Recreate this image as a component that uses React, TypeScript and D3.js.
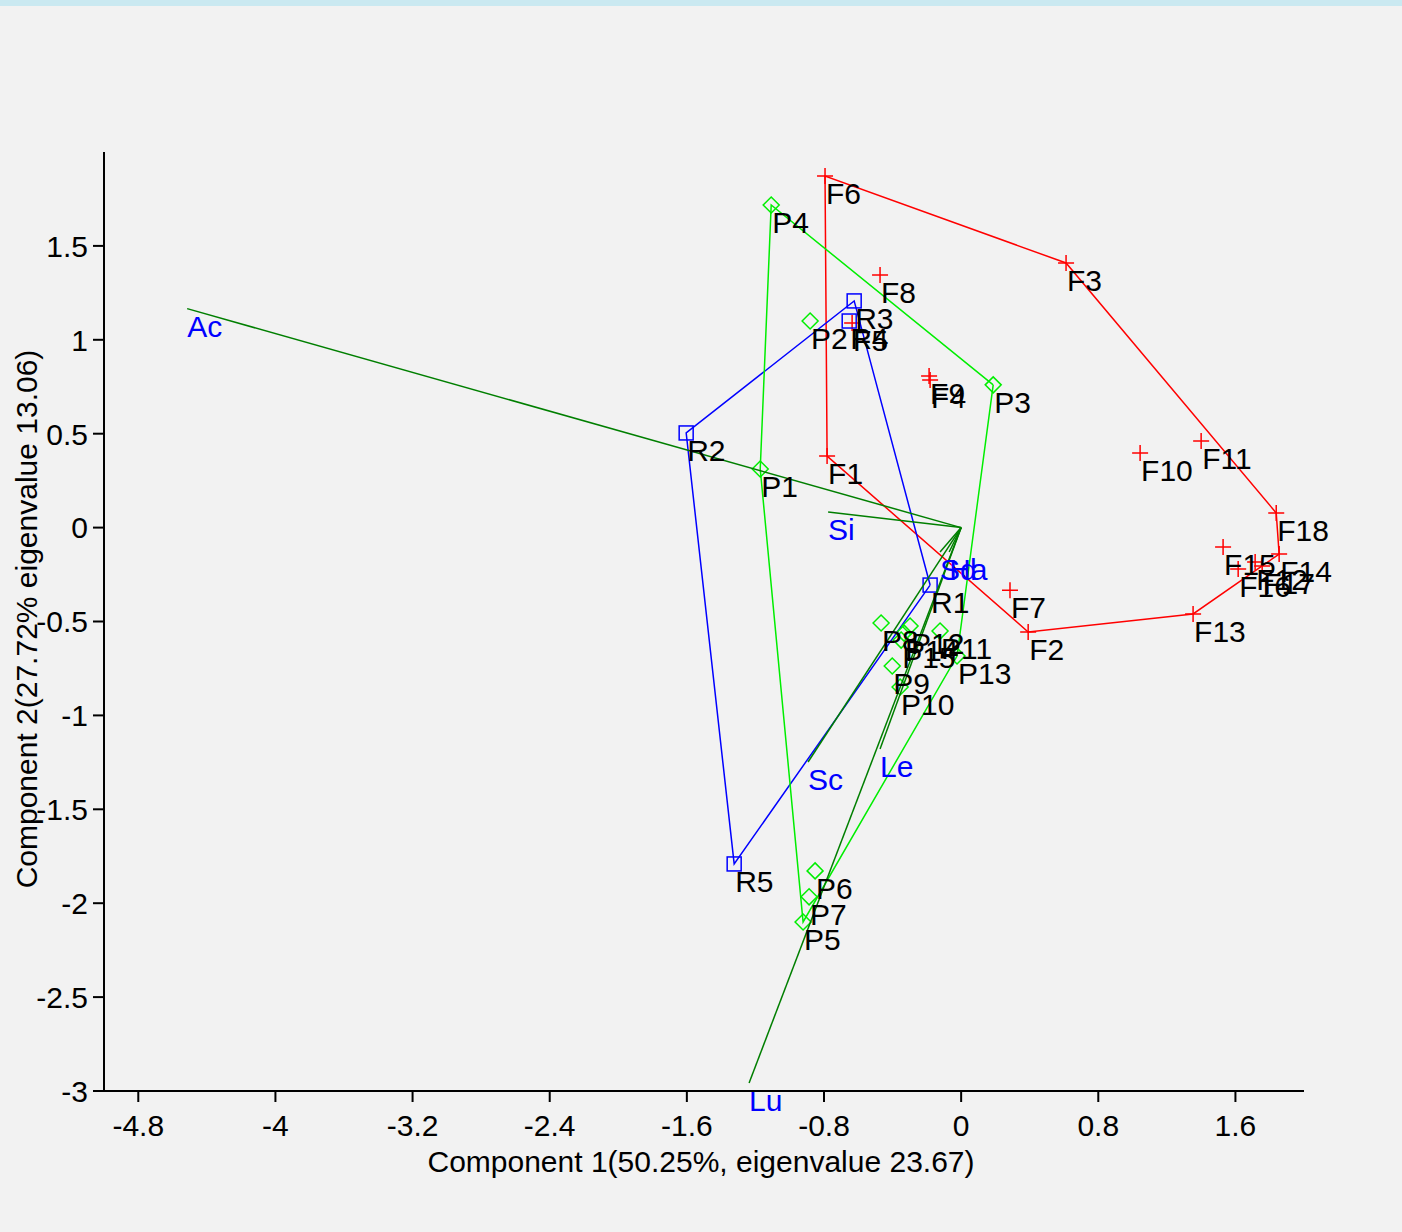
import React from 'react';
import * as d3 from 'd3';

// group F (red plus)
const fNames = ['F1', 'F2', 'F3', 'F4', 'F5', 'F6', 'F7', 'F8', 'F9', 'F10', 'F11', 'F12', 'F13', 'F14', 'F15', 'F16', 'F17', 'F18'];
const fX = [-0.782, 0.391, 0.612, -0.181, -0.636, -0.794, 0.285, -0.473, -0.187, 1.044, 1.4, 1.715, 1.353, 1.855, 1.528, 1.616, 1.756, 1.838];
const fY = [0.381, -0.556, 1.409, 0.786, 1.089, 1.872, -0.333, 1.345, 0.807, 0.397, 0.461, -0.183, -0.46, -0.141, -0.103, -0.22, -0.204, 0.078];

// group R (blue square)
const rNames = ['R1', 'R2', 'R3', 'R4', 'R5'];
const rX = [-0.181, -1.604, -0.624, -0.653, -1.324];
const rY = [-0.306, 0.504, 1.207, 1.1, -1.791];

// group P (green diamond)
const pNames = ['P1', 'P2', 'P3', 'P4', 'P5', 'P6', 'P7', 'P8', 'P9', 'P10', 'P11', 'P12', 'P13', 'P14', 'P15'];
const pX = [-1.172, -0.881, 0.187, -1.108, -0.922, -0.852, -0.887, -0.467, -0.402, -0.356, -0.123, -0.298, -0.024, -0.333, -0.35];
const pY = [0.312, 1.1, 0.76, 1.718, -2.1, -1.828, -1.966, -0.508, -0.737, -0.849, -0.551, -0.524, -0.684, -0.562, -0.599];

// variable loadings (biplot vectors)
const varNames = ['Ac', 'Si', 'Sc', 'Le', 'Lu', 'Sd', 'Ha'];
const varX = [-4.515, -0.776, -0.893, -0.473, -1.237, -0.123, -0.07];
const varY = [1.166, 0.083, -1.248, -1.179, -2.957, -0.13, -0.13];

const xTicks = [-4.8, -4, -3.2, -2.4, -1.6, -0.8, 0, 0.8, 1.6];
const yTicks = [-3, -2.5, -2, -1.5, -1, -0.5, 0, 0.5, 1, 1.5];

const W = 1402;
const H = 1232;
const FONT = '"Liberation Sans", Arial, sans-serif';
const FS = 30;

export default function App() {
  const x = d3.scaleLinear().domain([-5, 2]).range([104, 1304]);
  const y = d3.scaleLinear().domain([-3, 2]).range([1091, 152]);

  const pts = (xs: number[], ys: number[]) => xs.map((v, i) => [x(v), y(ys[i])] as [number, number]);
  const fPts = pts(fX, fY);
  const rPts = pts(rX, rY);
  const pPts = pts(pX, pY);
  const vPts = pts(varX, varY);

  const hullPath = (p: [number, number][]) => {
    const h = d3.polygonHull(p) || [];
    return d3.line()(h.concat([h[0]])) || '';
  };

  const x0 = x(0);
  const y0 = y(0);
  const ms = 8;

  return (
    <svg width={W} height={H} style={{ position: 'absolute', left: 0, top: 0 }} fontFamily={FONT}>
      <rect width={W} height={H} fill="#f2f2f2" />
      <rect width={W} height={6} fill="#cae9f1" />

      {/* hulls */}
      <path d={hullPath(fPts)} fill="none" stroke="#ff0000" strokeWidth={1.5} />
      <path d={hullPath(rPts)} fill="none" stroke="#0000ff" strokeWidth={1.5} />
      <path d={hullPath(pPts)} fill="none" stroke="#00ee00" strokeWidth={1.5} />

      {/* markers */}
      {fPts.map(([px, py], i) => (
        <path key={'fm' + i} d={`M${px - ms},${py}H${px + ms}M${px},${py - ms}V${py + ms}`} stroke="#ff0000" strokeWidth={1.5} fill="none" />
      ))}
      {rPts.map(([px, py], i) => (
        <rect key={'rm' + i} x={px - 7} y={py - 7} width={14} height={14} stroke="#0000ff" strokeWidth={1.5} fill="none" />
      ))}
      {pPts.map(([px, py], i) => (
        <path key={'pm' + i} d={`M${px},${py - ms}L${px + ms},${py}L${px},${py + ms}L${px - ms},${py}Z`} stroke="#00ee00" strokeWidth={1.5} fill="none" />
      ))}

      {/* vectors */}
      {vPts.map(([px, py], i) => (
        <line key={'v' + i} x1={x0} y1={y0} x2={px} y2={py} stroke="#007f00" strokeWidth={1.5} />
      ))}

      {/* labels */}
      {fPts.map(([px, py], i) => (
        <text key={'fl' + i} x={px + 1} y={py + 28} fontSize={FS} fill="#000">{fNames[i]}</text>
      ))}
      {rPts.map(([px, py], i) => (
        <text key={'rl' + i} x={px + 1} y={py + 28} fontSize={FS} fill="#000">{rNames[i]}</text>
      ))}
      {pPts.map(([px, py], i) => (
        <text key={'pl' + i} x={px + 1} y={py + 28} fontSize={FS} fill="#000">{pNames[i]}</text>
      ))}
      {vPts.map(([px, py], i) => (
        <text key={'vl' + i} x={px} y={py + 28} fontSize={FS} fill="#0000ff">{varNames[i]}</text>
      ))}

      {/* axes */}
      <line x1={93} y1={1091} x2={1304} y2={1091} stroke="#000" strokeWidth={2} />
      <line x1={104} y1={152} x2={104} y2={1091} stroke="#000" strokeWidth={2} />
      {xTicks.map((t) => (
        <g key={'xt' + t}>
          <line x1={x(t)} x2={x(t)} y1={1091} y2={1102} stroke="#000" strokeWidth={2} />
          <text x={x(t)} y={1136} fontSize={FS} textAnchor="middle">{String(t)}</text>
        </g>
      ))}
      {yTicks.map((t) => (
        <g key={'yt' + t}>
          <line x1={93} x2={104} y1={y(t)} y2={y(t)} stroke="#000" strokeWidth={2} />
          <text x={88} y={y(t)} dy="0.36em" fontSize={FS} textAnchor="end">{String(t)}</text>
        </g>
      ))}
      <text x={701} y={1172} fontSize={FS} textAnchor="middle">Component 1(50.25%, eigenvalue 23.67)</text>
      <text transform={`translate(37,${619}) rotate(-90)`} fontSize={FS} textAnchor="middle">Component 2(27.72% eigenvalue 13.06)</text>
    </svg>
  );
}
